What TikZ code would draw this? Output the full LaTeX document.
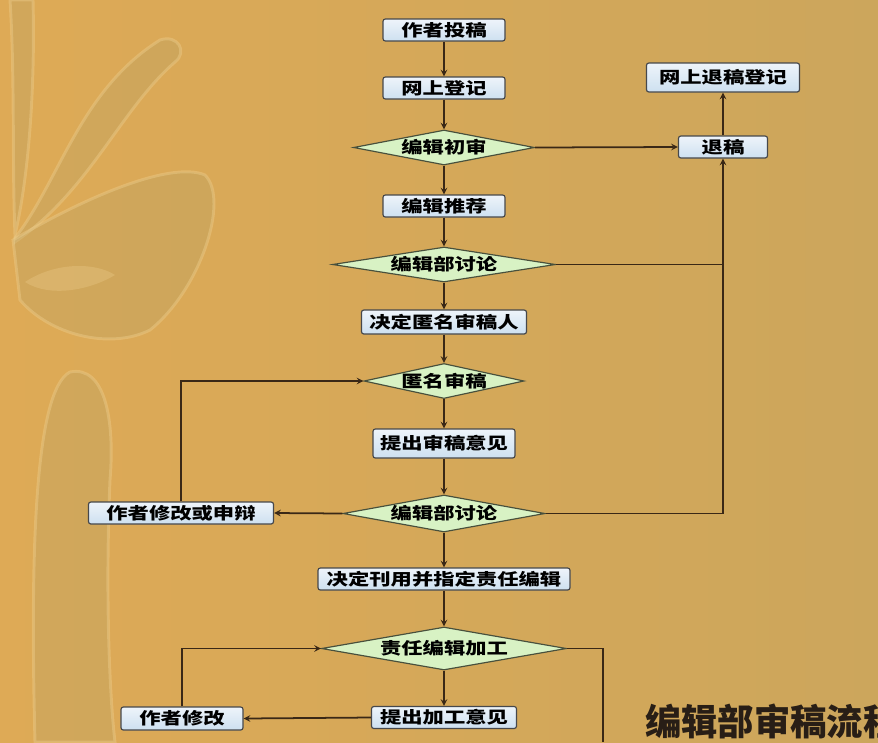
\documentclass[tikz,border=0pt]{standalone}
\usepackage{fontspec}
\newfontfamily\cjk[FakeStretch=1.3]{Noto Sans CJK SC}
\newfontfamily\titlecjk{Noto Sans CJK SC}
\usetikzlibrary{shapes.geometric}
\definecolor{bgleft}{RGB}{222,170,86}
\definecolor{bgright}{RGB}{204,166,92}
\definecolor{swirldark}{RGB}{178,160,104}
\definecolor{swirllight}{RGB}{236,204,138}
\definecolor{boxline}{RGB}{70,72,76}
\definecolor{boxtop}{RGB}{238,244,250}
\definecolor{boxbot}{RGB}{205,224,240}
\definecolor{judgefill}{RGB}{216,242,196}
\definecolor{judgeline}{RGB}{72,80,60}
\definecolor{linecol}{RGB}{58,40,22}
\definecolor{titlecol}{RGB}{40,30,22}
\begin{document}
\begin{tikzpicture}[x=0.03cm, y=-0.03cm, >=stealth,
    box/.style={draw=boxline, line width=1pt, rounded corners=2pt, top color=boxtop, bottom color=boxbot,
      inner sep=0pt, minimum height=0.66cm, font=\cjk\bfseries\fontsize{14}{14}\selectfont},
    judge/.style={diamond, draw=judgeline, line width=1pt, fill=judgefill, inner sep=0pt,
      font=\cjk\bfseries\fontsize{14}{14}\selectfont},
    line/.style={draw=linecol, line width=1.5pt}]
  \useasboundingbox (0,0) rectangle (878,742);

  % 背景
  \shade[left color=bgleft, right color=bgright] (0,0) rectangle (878,742);
  \begin{scope}[fill=swirldark, fill opacity=0.28, draw=swirllight, draw opacity=0.45, line width=2.5pt]
    \filldraw (10,0) -- (33,0) .. controls (35,80) and (30,170) .. (15,235) .. controls (12,160) and (15,80) .. (10,0);
    \filldraw (15,238) .. controls (60,180) and (80,90) .. (160,40) .. controls (178,34) and (188,52) .. (175,62)
      .. controls (120,110) and (90,190) .. (15,242) -- cycle;
    \filldraw (13,240) .. controls (80,200) and (170,160) .. (205,175) .. controls (230,200) and (200,290) .. (150,330)
      .. controls (110,350) and (50,335) .. (20,300) -- cycle;
    \filldraw (35,742) .. controls (30,550) and (35,390) .. (70,372) .. controls (105,365) and (115,420) .. (110,480)
      .. controls (105,600) and (110,700) .. (115,742) -- cycle;
  \end{scope}
  \fill[swirllight, opacity=0.35] (25,282) .. controls (55,262) and (95,262) .. (115,275) .. controls (90,290) and (50,298) .. (25,282) -- cycle;

  % 主流程
  \node[box, minimum width=3.66cm] (tougao) at (444,30) {作者投稿};
  \node[box, minimum width=3.66cm] (dengji) at (444,88) {网上登记};
  \node[judge, aspect=5.2, minimum width=5.43cm, minimum height=1.05cm] (chushen) at (444,147.5) {编辑初审};
  \node[box, minimum width=3.66cm] (tuijian) at (444,206) {编辑推荐};
  \node[judge, aspect=6.4, minimum width=6.69cm, minimum height=1.05cm] (taolun1) at (444,264.5) {编辑部讨论};
  \node[box, minimum width=4.95cm, minimum height=0.72cm] (jueding) at (444,322) {决定匿名审稿人};
  \node[judge, aspect=4.6, minimum width=4.8cm, minimum height=1.05cm] (niming) at (444,381) {匿名审稿};
  \node[box, minimum width=4.26cm, minimum height=0.87cm] (yijian) at (444,443.5) {提出审稿意见};
  \node[judge, aspect=5.5, minimum width=6.06cm, minimum height=1.11cm] (taolun2) at (444,513.5) {编辑部讨论};
  \node[box, minimum width=7.56cm] (kanyong) at (444,579) {决定刊用并指定责任编辑};
  \node[judge, aspect=5.7, minimum width=7.35cm, minimum height=1.29cm] (jiagong) at (444,648.5) {责任编辑加工};
  \node[box, minimum width=4.35cm] (jgyijian) at (444,717.5) {提出加工意见};

  % 退稿与修改
  \node[box, minimum width=2.67cm] (tuigao) at (723,147) {退稿};
  \node[box, minimum width=4.59cm, minimum height=0.87cm] (tuigaodj) at (723,77.5) {网上退稿登记};
  \node[box, minimum width=5.55cm] (shenbian) at (181,513) {作者修改或申辩};
  \node[box, minimum width=3.66cm, minimum height=0.69cm] (xiugai) at (182,718.5) {作者修改};

  \node[font=\titlecjk\bfseries\fontsize{31}{31}\selectfont, text=titlecol, anchor=base west, inner sep=0pt] (biaoti) at (645,735) {编辑部审稿流程};
  \coordinate (rdown) at (603,742);

  % 连线
  \draw[line,->] (tougao) -- (dengji);
  \draw[line,->] (dengji) -- (chushen);
  \draw[line,->] (chushen) -- (tuijian);
  \draw[line,->] (tuijian) -- (taolun1);
  \draw[line,->] (taolun1) -- (jueding);
  \draw[line,->] (jueding) -- (niming);
  \draw[line,->] (niming) -- (yijian);
  \draw[line,->] (yijian) -- (taolun2);
  \draw[line,->] (taolun2) -- (kanyong);
  \draw[line,->] (kanyong) -- (jiagong);
  \draw[line,->] (jiagong) -- (jgyijian);
  \draw[line,->] (chushen.east) -- (tuigao.west);
  \draw[line,->] (tuigao) -- (tuigaodj);
  \draw[line,->] (taolun2.east) -| (tuigao.south);
  \draw[line] (taolun1.east) -- (taolun1.east -| tuigao.south);
  \draw[line,->] (taolun2.west) -- (shenbian.east);
  \draw[line,->] (shenbian.north) |- (niming.west);
  \draw[line,->] (jgyijian.west) -- (xiugai.east);
  \draw[line,->] (xiugai.north) |- (jiagong.west);
  \draw[line] (jiagong.east) -| (rdown);
\end{tikzpicture}
\end{document}
